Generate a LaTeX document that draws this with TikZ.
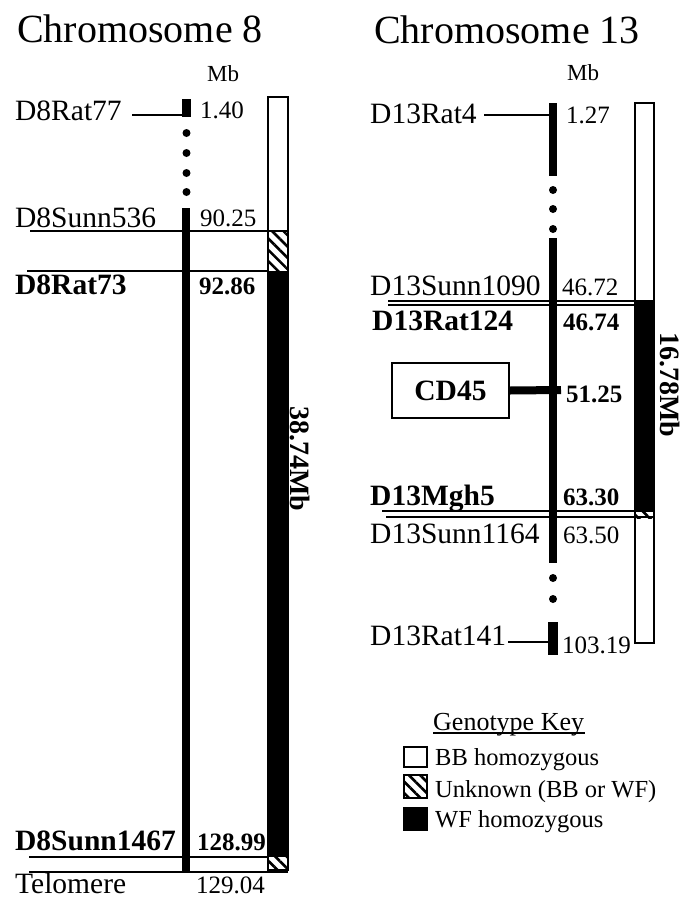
\documentclass[tikz,border=0pt]{standalone}
\usepackage{fontspec}
\setmainfont{Liberation Serif}
\usetikzlibrary{patterns.meta,positioning}

\newcommand{\titlesize}{\fontsize{40}{44}\selectfont}
\newcommand{\marksize}{\fontsize{29.5}{32}\selectfont}
\newcommand{\possize}{\fontsize{25}{28}\selectfont}
\newcommand{\keysize}{\fontsize{24.5}{27}\selectfont}

\tikzset{
  title/.style={anchor=base, inner sep=0pt, font=\titlesize},
  unit/.style={anchor=base west, inner sep=0pt, font=\fontsize{23}{25}\selectfont},
  marker/.style={anchor=base west, inner sep=0pt, font=\marksize},
  posn/.style={anchor=base west, inner sep=0pt, font=\possize},
  keytext/.style={anchor=base west, inner sep=0pt, font=\keysize},
  span/.style={rotate=-90, inner sep=0pt, font=\fontsize{28}{30}\selectfont\bfseries},
  hatch/.style={pattern={Lines[angle=-45,distance=8pt,line width=2.6pt]}},
  colbox/.style={line width=2.2pt},
  tie/.style={line width=2.3pt},
}

\begin{document}
\begin{tikzpicture}[x=1pt, y=-1pt]
  \useasboundingbox (0,0) rectangle (690,898);

  % Titles and unit headings
  \node[title] (title8) at (140,42) {Chromosome 8};
  \node[title] (title13) at (507,43) {Chromosome 13};
  \node[unit] (mb8) at (207,81) {Mb};
  \node[unit] (mb13) at (567,80) {Mb};

  %% ---------------- Chromosome 8 ----------------
  % Genotype column
  \fill[white] (268,97) rectangle (288,231);
  \fill[hatch] (268,231) rectangle (288,271);
  \fill[black] (268,271) rectangle (288,857);
  \fill[hatch] (268,857) rectangle (288,870);
  \draw[colbox] (268,97) rectangle (288,870);
  \node[span] (len8) at (300,459) {38.74Mb};

  % Chromosome bar with gap dots
  \fill (182,99) rectangle (191,117);
  \foreach \y in {133,153,173,192}
    \fill (186.5,\y) circle (4);
  \fill (182,208) rectangle (190,872);

  % Markers and positions
  \node[marker] (rat77) at (15,120) {D8Rat77};
  \node[posn] (pos77) at (200,118) {1.40};
  \node[marker] (sunn536) at (15,227) {D8Sunn536};
  \node[posn] (pos536) at (200,226) {90.25};
  \node[marker, font=\marksize\bfseries] (rat73) at (15,294) {D8Rat73};
  \node[posn, font=\possize\bfseries] (pos73) at (199,294) {92.86};
  \node[marker, font=\marksize\bfseries] (sunn1467) at (15,850) {D8Sunn1467};
  \node[posn, font=\possize\bfseries] (pos1467) at (197,850) {128.99};
  \node[marker] (telo) at (15,893) {Telomere};
  \node[posn] (postelo) at (196,893) {129.04};

  % Marker ties
  \coordinate (r77a) at (132,115);  \coordinate (r77b) at (183,115);
  \coordinate (s536a) at (30,231);  \coordinate (s536b) at (288,231);
  \coordinate (r73a) at (27,271);   \coordinate (r73b) at (268,271);
  \coordinate (s1467a) at (29,857); \coordinate (s1467b) at (268,857);
  \coordinate (teloa) at (29,872);  \coordinate (telob) at (288,872);
  \draw[tie] (r77a) -- (r77b);
  \draw[tie] (s536a) -- (s536b);
  \draw[tie] (r73a) -- (r73b);
  \draw[tie] (s1467a) -- (s1467b);
  \draw[tie] (teloa) -- (telob);

  %% ---------------- Chromosome 13 ----------------
  % Genotype column
  \fill[white] (635,103) rectangle (654,643);
  \fill[black] (635,300) rectangle (654,512);
  \fill[hatch] (635,512) rectangle (654,518);
  \draw[colbox] (635,103) rectangle (654,643);
  \node[span] (len13) at (670,385) {16.78Mb};

  % Chromosome bar with gap dots
  \fill (549,103) rectangle (557,176);
  \foreach \y in {190,209,229}
    \fill (553,\y) circle (4);
  \fill (549,238) rectangle (557,563);
  \foreach \y in {578,599}
    \fill (553,\y) circle (4);
  \fill (548,622) rectangle (558,655);

  % Markers and positions
  \node[marker] (rat4) at (370,123) {D13Rat4};
  \node[posn] (pos4) at (566,123) {1.27};
  \node[marker] (sunn1090) at (370,295) {D13Sunn1090};
  \node[posn] (pos1090) at (562,295) {46.72};
  \node[marker, font=\marksize\bfseries] (rat124) at (372,330) {D13Rat124};
  \node[posn, font=\possize\bfseries] (pos124) at (563,330) {46.74};
  \node[draw, line width=1.4pt, minimum width=117pt, minimum height=55pt,
        font=\marksize\bfseries] (cd45) at (450.5,390.5) {CD45};
  \node[posn, font=\possize\bfseries] (poscd45) at (566,402) {51.25};
  \node[marker, font=\marksize\bfseries] (mgh5) at (370,505) {D13Mgh5};
  \node[posn, font=\possize\bfseries] (posmgh5) at (563,505) {63.30};
  \node[marker] (sunn1164) at (370,543) {D13Sunn1164};
  \node[posn] (pos1164) at (563,543) {63.50};
  \node[marker] (rat141) at (370,645) {D13Rat141};
  \node[posn] (pos141) at (562,653) {103.19};

  % Marker ties
  \coordinate (r4a) at (484,115);     \coordinate (r4b) at (549,115);
  \coordinate (s1090a) at (388,301);  \coordinate (s1090b) at (640,301);
  \coordinate (r124a) at (388,305);   \coordinate (r124b) at (635,305);
  \coordinate (cd45b) at (561,390);
  \coordinate (m5a) at (382,511);     \coordinate (m5b) at (654,511);
  \coordinate (s1164a) at (386,517);  \coordinate (s1164b) at (654,517);
  \coordinate (r141a) at (508,642);   \coordinate (r141b) at (549,642);
  \draw[tie] (r4a) -- (r4b);
  \draw[tie, line width=1.8pt] (s1090a) -- (s1090b);
  \draw[tie, line width=1.8pt] (r124a) -- (r124b);
  \draw[line width=8pt] (cd45.east) -- (cd45b);
  \draw[tie, line width=1.8pt] (m5a) -- (m5b);
  \draw[tie, line width=1.8pt] (s1164a) -- (s1164b);
  \draw[tie] (r141a) -- (r141b);

  %% ---------------- Genotype key ----------------
  \node[keytext, font=\fontsize{26}{28}\selectfont] (key) at (433,730) {Genotype Key};
  \coordinate (keyul) at (433,733); \coordinate (keyur) at (585,733);
  \draw[line width=1.2pt] (keyul) -- (keyur);
  \draw[colbox, fill=white] (404,747) rectangle (427,767);
  \draw[colbox, hatch] (404,775) rectangle (427,798);
  \draw[colbox, fill=black] (404,808) rectangle (427,830);
  \node[keytext] (bb) at (435,765) {BB homozygous};
  \node[keytext] (unk) at (435,797) {Unknown (BB or WF)};
  \node[keytext] (wf) at (435,827) {WF homozygous};
\end{tikzpicture}
\end{document}
